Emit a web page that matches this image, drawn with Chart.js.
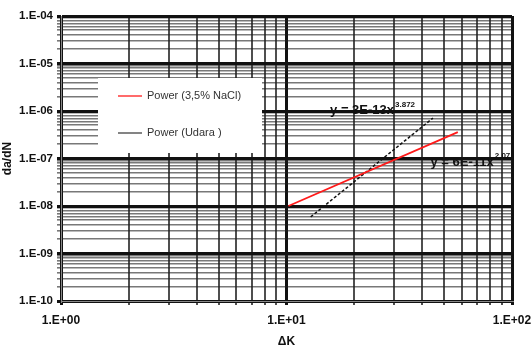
<!DOCTYPE html>
<html>
<head>
<meta charset="utf-8">
<script src="https://cdn.jsdelivr.net/npm/chart.js@4/dist/chart.umd.min.js"></script>
<style>
  html, body { margin: 0; padding: 0; background: #fff; }
  #wrap { width: 531px; height: 349px; position: relative; }
</style>
</head>
<body>
<div id="wrap"><canvas id="c"></canvas></div>
<script>
// ---- data ----
const xMajorValues = [1, 10, 100];
const xTickLabels = ['1.E+00', '1.E+01', '1.E+02'];
const yMajorValues = [1e-10, 1e-9, 1e-8, 1e-7, 1e-6, 1e-5, 1e-4];
const yTickLabels = ['1.E-10', '1.E-09', '1.E-08', '1.E-07', '1.E-06', '1.E-05', '1.E-04'];
const minorMultipliers = [2, 3, 4, 5, 6, 7, 8, 9];

const seriesNames = ['Power (3,5% NaCl)', 'Power (Udara )'];
const naclK = [10.2, 57.5];
const naclRate = [1.0e-8, 3.6e-7];
const udaraK = [12.8, 44.6];
const udaraRate = [5.9e-9, 7.1e-7];

const eqUdara = { base: 'y = 3E-13x', exp: '3.872', x: 15.6, y: 1.02e-6 };
const eqNacl = { base: 'y = 6E-11x', exp: '2.07', x: 43.5, y: 8.4e-8 };

const xTitle = 'ΔK';
const yTitle = 'da/dN';

const FONT = '"Liberation Sans", Arial, sans-serif';

function withMinors(majors) {
  const out = [];
  majors.forEach((m, i) => {
    out.push(m);
    if (i < majors.length - 1) minorMultipliers.forEach(k => out.push(m * k));
  });
  return out;
}
function isMajor(v) {
  const l = Math.log10(v);
  return Math.abs(l - Math.round(l)) < 1e-9;
}
function labelFor(v, majors, labels) {
  for (let i = 0; i < majors.length; i++) {
    if (Math.abs(Math.log10(v) - Math.log10(majors[i])) < 1e-9) return labels[i];
  }
  return '';
}

const legendPlugin = {
  id: 'boxLegend',
  afterDatasetsDraw(chart) {
    const ctx = chart.ctx;
    ctx.save();
    ctx.fillStyle = '#ffffff';
    ctx.fillRect(98, 78, 164, 75);
    const ys = [96, 133];
    chart.data.datasets.forEach((ds, i) => {
      ctx.strokeStyle = i === 0 ? '#ff6b6b' : '#333';
      ctx.lineWidth = i === 0 ? 2 : 1.2;
      ctx.setLineDash([]);
      ctx.beginPath();
      ctx.moveTo(118, ys[i]);
      ctx.lineTo(142, ys[i]);
      ctx.stroke();
      ctx.fillStyle = '#333';
      ctx.font = '11px ' + FONT;
      ctx.textBaseline = 'middle';
      ctx.textAlign = 'left';
      ctx.fillText(ds.label, 147, ys[i]);
    });
    // equations
    const xs = chart.scales.x, yS = chart.scales.y;
    [eqUdara, eqNacl].forEach(eq => {
      const px = xs.getPixelForValue(eq.x), py = yS.getPixelForValue(eq.y);
      ctx.fillStyle = '#111';
      ctx.font = 'bold 13px ' + FONT;
      ctx.textBaseline = 'middle';
      ctx.fillText(eq.base, px, py);
      const w = ctx.measureText(eq.base).width;
      ctx.font = 'bold 8px ' + FONT;
      ctx.fillText(eq.exp, px + w + 1, py - 6);
    });
    ctx.restore();
  }
};

function gridColorX(c) {
  if (!c.tick) return '#000';
  if (isMajor(c.tick.value)) return '#111';
  return 'rgba(20,20,20,0.75)';
}
function gridWidthX(c) {
  if (!c.tick) return 1;
  return isMajor(c.tick.value) ? 3 : 2;
}
function gridColorY(c) {
  if (!c.tick) return '#000';
  if (isMajor(c.tick.value)) return '#111';
  return 'rgba(30,30,30,0.6)';
}
function gridWidthY(c) {
  if (!c.tick) return 1;
  return isMajor(c.tick.value) ? 3 : 1.6;
}

new Chart(document.getElementById('c'), {
  type: 'scatter',
  data: {
    datasets: [
      {
        label: seriesNames[0],
        data: naclK.map((k, i) => ({ x: k, y: naclRate[i] })),
        showLine: true,
        borderColor: '#ff1a1a',
        borderWidth: 1.8,
        pointRadius: 0
      },
      {
        label: seriesNames[1],
        data: udaraK.map((k, i) => ({ x: k, y: udaraRate[i] })),
        showLine: true,
        borderColor: '#111111',
        borderWidth: 1.5,
        borderDash: [3, 2],
        pointRadius: 0
      }
    ]
  },
  options: {
    responsive: true,
    maintainAspectRatio: false,
    animation: false,
    layout: { padding: { top: 16, right: 19, left: 0, bottom: 0 } },
    plugins: { legend: { display: false }, tooltip: { enabled: false } },
    scales: {
      x: {
        type: 'logarithmic',
        min: 1, max: 100,
        afterBuildTicks: s => { s.ticks = withMinors(xMajorValues).map(v => ({ value: v })); },
        afterFit: s => { s.height = 48; s.paddingLeft = 0; s.paddingRight = 0; },
        ticks: {
          autoSkip: false, maxRotation: 0, padding: 8,
          color: '#111',
          font: { family: FONT, size: 12, weight: 'bold' },
          callback: v => labelFor(v, xMajorValues, xTickLabels)
        },
        grid: { color: gridColorX, lineWidth: gridWidthX, tickLength: 4, drawTicks: true },
        border: { color: '#888', width: 1 },
        title: {
          display: true, text: xTitle, color: '#111', padding: { top: 2, bottom: 0 },
          font: { family: FONT, size: 12, weight: 'bold' }
        }
      },
      y: {
        type: 'logarithmic',
        min: 1e-10, max: 1e-4,
        afterBuildTicks: s => { s.ticks = withMinors(yMajorValues).map(v => ({ value: v })); },
        afterFit: s => { s.width = 61; s.paddingTop = 0; s.paddingBottom = 0; },
        ticks: {
          autoSkip: false, padding: 4,
          color: '#111',
          font: { family: FONT, size: 11.5, weight: 'bold' },
          callback: v => labelFor(v, yMajorValues, yTickLabels)
        },
        grid: { color: gridColorY, lineWidth: gridWidthY, tickLength: 4 },
        border: { color: '#888', width: 1 },
        title: {
          display: true, text: yTitle, color: '#111', padding: { top: 0, bottom: 0 },
          font: { family: FONT, size: 12, weight: 'bold' }
        }
      }
    }
  },
  plugins: [legendPlugin]
});
</script>
</body>
</html>
